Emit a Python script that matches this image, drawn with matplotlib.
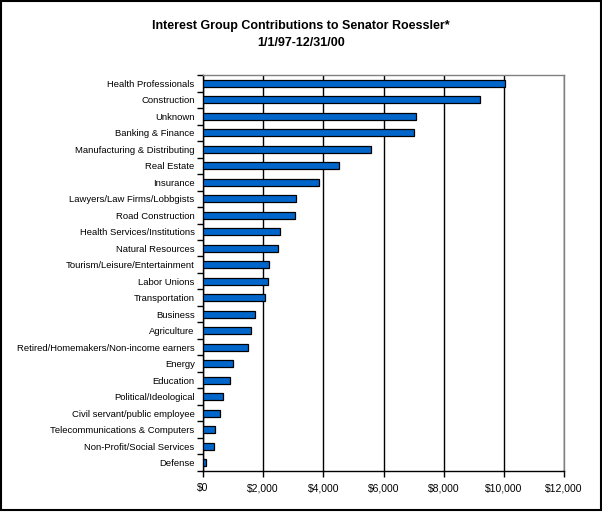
import numpy as np
import matplotlib
matplotlib.use("Agg")
from matplotlib import pyplot as plt
from matplotlib.patches import Rectangle
from matplotlib.ticker import FuncFormatter, FixedLocator

categories = [
    "Health Professionals",
    "Construction",
    "Unknown",
    "Banking & Finance",
    "Manufacturing & Distributing",
    "Real Estate",
    "Insurance",
    "Lawyers/Law Firms/Lobbgists",
    "Road Construction",
    "Health Services/Institutions",
    "Natural Resources",
    "Tourism/Leisure/Entertainment",
    "Labor Unions",
    "Transportation",
    "Business",
    "Agriculture",
    "Retired/Homemakers/Non-income earners",
    "Energy",
    "Education",
    "Political/Ideological",
    "Civil servant/public employee",
    "Telecommunications & Computers",
    "Non-Profit/Social Services",
    "Defense",
]
amounts = [10050, 9210, 7090, 7020, 5590, 4530, 3870, 3100, 3070, 2570,
           2500, 2200, 2170, 2070, 1740, 1600, 1500, 1010, 900, 680,
           580, 410, 380, 110]
xticks = [0, 2000, 4000, 6000, 8000, 10000, 12000]

plt.rcParams.update({"font.family": ["Liberation Sans", "DejaVu Sans"]})

fig = plt.figure(figsize=(6.02, 5.12), dpi=100)
ax = fig.add_axes([0.3372, 0.0801, 0.5997, 0.7734])

y = np.arange(len(categories))
ax.barh(y, amounts, height=0.4, color="#0066CC", edgecolor="black",
        linewidth=0.9, zorder=3)

ax.set_xlim(0, 12000)
ax.set_ylim(len(categories) - 0.5, -0.5)
ax.set_xticks(xticks)
ax.xaxis.set_major_formatter(FuncFormatter(lambda v, p: "${:,.0f}".format(v)))
ax.grid(True, axis="x", color="black", linewidth=1.0, zorder=1)

ax.set_yticks(y)
ax.set_yticklabels(categories)
ax.yaxis.set_minor_locator(FixedLocator(np.arange(-0.5, len(categories), 1.0)))
ax.tick_params(axis="y", which="major", length=0, pad=6, labelsize=6.8)
ax.tick_params(axis="y", which="minor", length=4, width=1, color="black")
ax.tick_params(axis="x", which="major", length=4, width=1, pad=5, labelsize=7.5)

for s in ("top", "right"):
    ax.spines[s].set_color("#808080")
    ax.spines[s].set_linewidth(1.0)
for s in ("left", "bottom"):
    ax.spines[s].set_color("black")
    ax.spines[s].set_linewidth(1.0)

fig.text(0.5, 1 - 26 / 512, "Interest Group Contributions to Senator Roessler*",
         ha="center", va="center", fontsize=9, fontweight="bold")
fig.text(0.5, 1 - 43 / 512, "1/1/97-12/31/00",
         ha="center", va="center", fontsize=9, fontweight="bold")

fig.add_artist(Rectangle((0.001, 0.003), 0.997, 0.996, transform=fig.transFigure,
                         fill=False, edgecolor="black", linewidth=1.5))

fig.savefig("out.png", dpi=100)
